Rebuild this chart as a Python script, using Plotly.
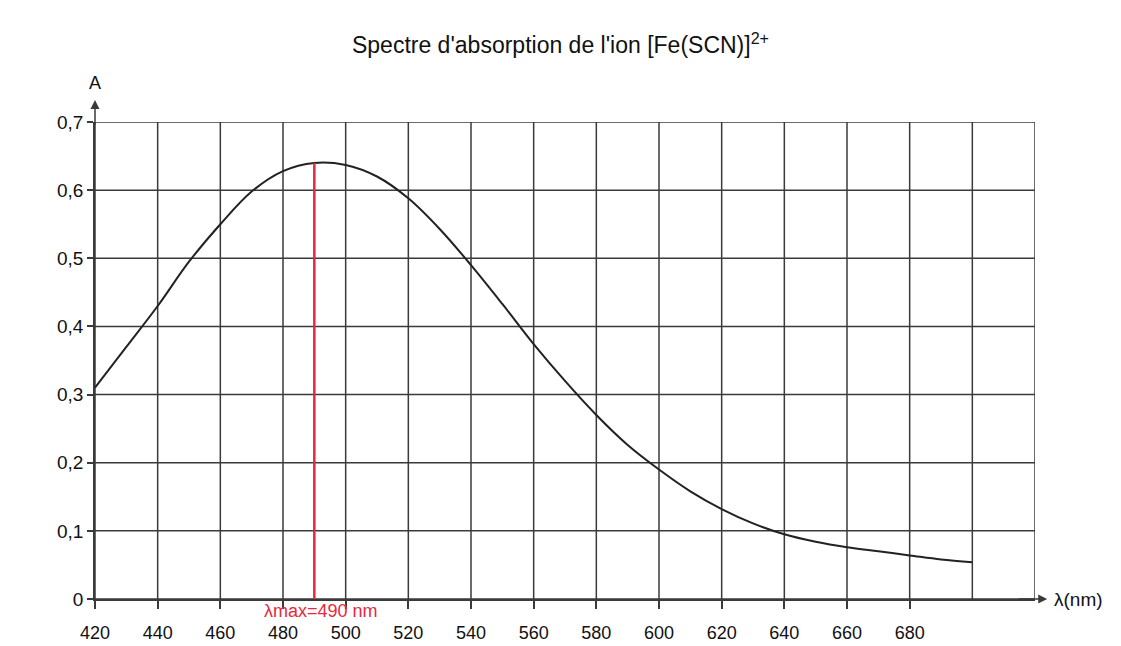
import plotly.graph_objects as go

wavelength_nm = [420, 430, 440, 450, 460, 470, 480, 490, 500, 510, 520, 530, 540, 550,
                 560, 570, 580, 590, 600, 610, 620, 630, 640, 650, 660, 670, 680, 690, 700]
absorbance = [0.31, 0.37, 0.43, 0.495, 0.55, 0.598, 0.628, 0.64, 0.637, 0.62, 0.588, 0.543,
              0.49, 0.433, 0.374, 0.32, 0.27, 0.226, 0.19, 0.158, 0.132, 0.111, 0.095,
              0.084, 0.076, 0.07, 0.064, 0.058, 0.054]
x_ticks = [420, 440, 460, 480, 500, 520, 540, 560, 580, 600, 620, 640, 660, 680]
y_ticks = [0, 0.1, 0.2, 0.3, 0.4, 0.5, 0.6, 0.7]
y_tick_labels = ["0", "0,1", "0,2", "0,3", "0,4", "0,5", "0,6", "0,7"]
lambda_max = 490
a_max = 0.64

FONT = "Liberation Sans, Arial, sans-serif"
GRID = "#3a3a3a"
TXT = "#111111"

fig = go.Figure()
fig.add_trace(go.Scatter(x=wavelength_nm, y=absorbance, mode="lines",
                         line=dict(color="#222222", width=2, shape="spline"),
                         hoverinfo="skip", showlegend=False))
fig.add_trace(go.Scatter(x=[lambda_max, lambda_max], y=[0, a_max], mode="lines",
                         line=dict(color="#e8283c", width=2.5),
                         hoverinfo="skip", showlegend=False))

fig.update_layout(
    width=1121, height=646,
    margin=dict(l=95, r=86, t=122, b=47),
    paper_bgcolor="white", plot_bgcolor="white",
    title=dict(text="Spectre d'absorption de l'ion [Fe(SCN)]<sup>2+</sup>",
               x=0.5, xanchor="center", y=0.93, yanchor="middle",
               font=dict(family=FONT, size=23, color=TXT)),
    font=dict(family=FONT, color=TXT),
    xaxis=dict(range=[420, 720], tickvals=x_ticks, ticktext=[str(v) for v in x_ticks],
               showgrid=False, zeroline=False, showline=True, linecolor=GRID, linewidth=1.5,
               ticks="outside", ticklen=8, tickcolor=GRID, tickwidth=1.5,
               ticklabelstandoff=9, automargin=False,
               tickfont=dict(family=FONT, size=18, color=TXT)),
    yaxis=dict(range=[0, 0.7], tickvals=y_ticks, ticktext=y_tick_labels,
               showgrid=False, zeroline=False, showline=True, linecolor=GRID, linewidth=1.5,
               ticks="outside", ticklen=6, tickcolor=GRID, tickwidth=1.5,
               automargin=False,
               tickfont=dict(family=FONT, size=19, color=TXT)),
)

# grid lines (every 20 nm and every 0.1)
for xv in range(420, 721, 20):
    fig.add_shape(type="line", xref="x", yref="y", x0=xv, x1=xv, y0=0, y1=0.7,
                  line=dict(color=GRID, width=1.5), layer="below")
for yv in y_ticks:
    fig.add_shape(type="line", xref="x", yref="y", x0=420, x1=720, y0=yv, y1=yv,
                  line=dict(color=GRID, width=1.5), layer="below")

# axis arrows
fig.add_annotation(x=1.013, y=0, xref="paper", yref="paper", ax=-30, ay=0, axref="pixel",
                   ayref="pixel", text="", showarrow=True, arrowhead=2, arrowsize=1.2,
                   arrowwidth=1.5, arrowcolor=GRID)
fig.add_annotation(x=1.018, y=0, xref="paper", yref="paper", text="λ(nm)", showarrow=False,
                   xanchor="left", yanchor="middle",
                   font=dict(family=FONT, size=19, color=TXT))
fig.add_annotation(x=0, y=1.046, xref="paper", yref="paper", ax=0, ay=26, text="",
                   showarrow=True, arrowhead=2, arrowsize=1.2, arrowwidth=1.5,
                   arrowcolor=GRID)
fig.add_annotation(x=0, y=1.082, xref="paper", yref="paper", text="A", showarrow=False,
                   xanchor="center", yanchor="middle",
                   font=dict(family=FONT, size=18, color=TXT))
fig.add_annotation(x=lambda_max, y=0, xref="x", yref="paper", text="λmax=490 nm",
                   showarrow=False, xanchor="center", yanchor="middle", yshift=-12, xshift=7,
                   font=dict(family=FONT, size=18, color="#e8283c"))

fig.write_html("out.html")
